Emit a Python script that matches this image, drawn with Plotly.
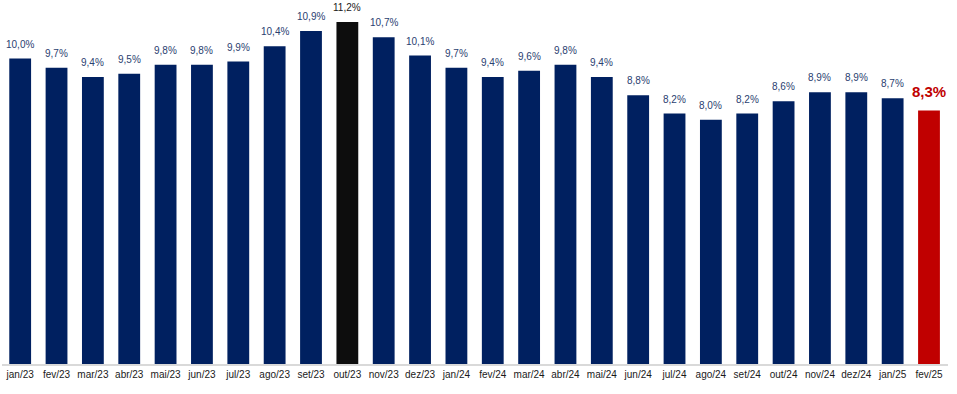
import plotly.graph_objects as go

categories = ["jan/23", "fev/23", "mar/23", "abr/23", "mai/23", "jun/23", "jul/23", "ago/23",
              "set/23", "out/23", "nov/23", "dez/23", "jan/24", "fev/24", "mar/24", "abr/24",
              "mai/24", "jun/24", "jul/24", "ago/24", "set/24", "out/24", "nov/24", "dez/24",
              "jan/25", "fev/25"]
values = [10.0, 9.7, 9.4, 9.5, 9.8, 9.8, 9.9, 10.4, 10.9, 11.2, 10.7, 10.1, 9.7, 9.4, 9.6, 9.8,
          9.4, 8.8, 8.2, 8.0, 8.2, 8.6, 8.9, 8.9, 8.7, 8.3]

NAVY = "#002060"
BLACK = "#0D0D0D"
RED = "#C00000"
LABEL_BLUE = "#2A4170"

colors = []
for c in categories:
    if c == "out/23":
        colors.append(BLACK)
    elif c == "fev/25":
        colors.append(RED)
    else:
        colors.append(NAVY)

fig = go.Figure()
fig.add_trace(go.Bar(
    x=categories, y=values,
    marker=dict(color=colors, line=dict(width=0)),
    hoverinfo="x+y",
))

for c, v in zip(categories, values):
    txt = f"{v:.1f}%".replace(".", ",")
    if c == "fev/25":
        font = dict(family="Liberation Sans, Arial", size=15, color=RED)
        txt = f"<b>{txt}</b>"
        shift = 8
    elif c == "out/23":
        font = dict(family="Liberation Sans, Arial", size=10, color="#1A1A1A")
        shift = 7
    else:
        font = dict(family="Liberation Sans, Arial", size=10, color=LABEL_BLUE)
        shift = 7
    fig.add_annotation(x=c, y=v, text=txt, showarrow=False, yanchor="bottom",
                       yshift=shift, font=font)

fig.update_layout(
    width=957, height=394,
    margin=dict(l=2, r=9, t=10, b=30),
    paper_bgcolor="white", plot_bgcolor="white",
    bargap=0.4,
    showlegend=False,
    xaxis=dict(
        type="category",
        showline=True, linecolor="#D9D9D9", linewidth=2,
        ticks="", tickfont=dict(family="Liberation Sans, Arial", size=10, color="#1A1A1A"),
        showgrid=False,
    ),
    yaxis=dict(visible=False, range=[0, 11.59], showgrid=False, zeroline=False),
)

fig.write_html("out.html", config={"displayModeBar": False},
               post_script="document.body.style.margin='0';document.body.style.overflow='hidden';")
